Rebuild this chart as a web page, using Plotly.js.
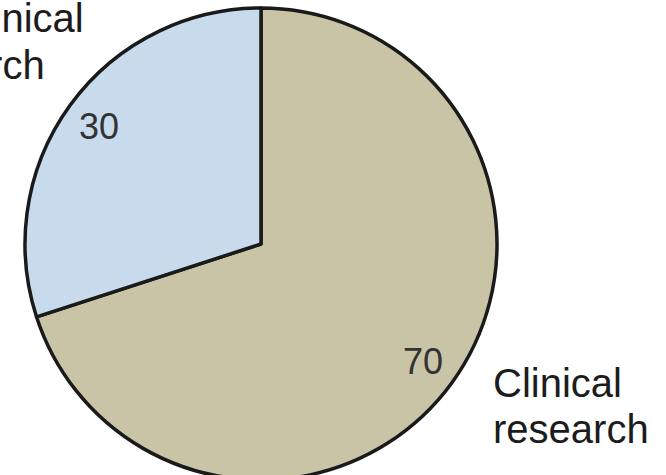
<!DOCTYPE html>
<html>
<head>
<meta charset="utf-8">
<script src="https://cdn.plot.ly/plotly-3.0.1.min.js"></script>
<style>
  html, body { margin: 0; padding: 0; overflow: hidden; background: #ffffff; }
  #chart { width: 666px; height: 490px; }
</style>
</head>
<body>
<div id="chart"></div>
<script>
// Share of research spending by type (slices run clockwise from 12 o'clock)
const labels = ['Clinical research', 'Non-clinical research'];
const values = [70, 30];
const sliceColors = ['#c8c4a5', '#c7dbec'];
const labelLines = [['Clinical', 'research'], ['Non-clinical', 'research']];

const W = 666, H = 490;
const margin = { l: 25, r: 169, t: 8, b: 10 };
const pw = W - margin.l - margin.r;
const ph = H - margin.t - margin.b;

// pixel -> paper helpers for the text placed around the pie
const px = x => (x - margin.l) / pw;
const py = y => 1 - (y - margin.t) / ph;

const fontFamily = 'Liberation Sans, Arial, sans-serif';
const labelFont = { family: fontFamily, size: 40, color: '#1c1c1c' };
const valueFont = { family: fontFamily, size: 36, color: '#333333' };

// outside category labels: one anchor per line
const labelAnchors = [
  { anchor: 'left', xs: [491, 491], ys: [383, 429] },
  { anchor: 'right', xs: [86, 47], ys: [18, 65] }
];

const annotations = [];
labelLines.forEach((lines, i) => {
  const a = labelAnchors[i];
  lines.forEach((line, j) => {
    annotations.push({
      text: line,
      xref: 'paper', yref: 'paper',
      x: px(a.xs[j]), y: py(a.ys[j]),
      xanchor: a.anchor, yanchor: 'middle',
      showarrow: false,
      font: labelFont
    });
  });
});

// value labels near the rim of each slice, at the slice's middle angle
// (angles measured clockwise from 12 o'clock, as the pie is drawn)
const cx = margin.l + pw / 2;
const cy = margin.t + ph / 2;
const radius = Math.min(pw, ph) / 2;
const total = values.reduce((a, b) => a + b, 0);
let startDeg = 0;
values.forEach(v => {
  const span = v / total * 360;
  const mid = (startDeg + span / 2) * Math.PI / 180;
  startDeg += span;
  annotations.push({
    text: String(v),
    xref: 'paper', yref: 'paper',
    x: px(cx + 0.85 * radius * Math.sin(mid)),
    y: py(cy - 0.85 * radius * Math.cos(mid)),
    xanchor: 'center', yanchor: 'middle',
    showarrow: false,
    font: valueFont
  });
});

const trace = {
  type: 'pie',
  labels: labels,
  values: values,
  sort: false,
  direction: 'clockwise',
  rotation: 0,
  textinfo: 'none',
  marker: { colors: sliceColors, line: { color: '#1a1a1a', width: 3.5 } },
  hoverinfo: 'skip',
  showlegend: false
};

Plotly.newPlot('chart', [trace], {
  width: W, height: H,
  margin: margin,
  paper_bgcolor: '#ffffff',
  showlegend: false,
  annotations: annotations
}, { staticPlot: true });
</script>
</body>
</html>
